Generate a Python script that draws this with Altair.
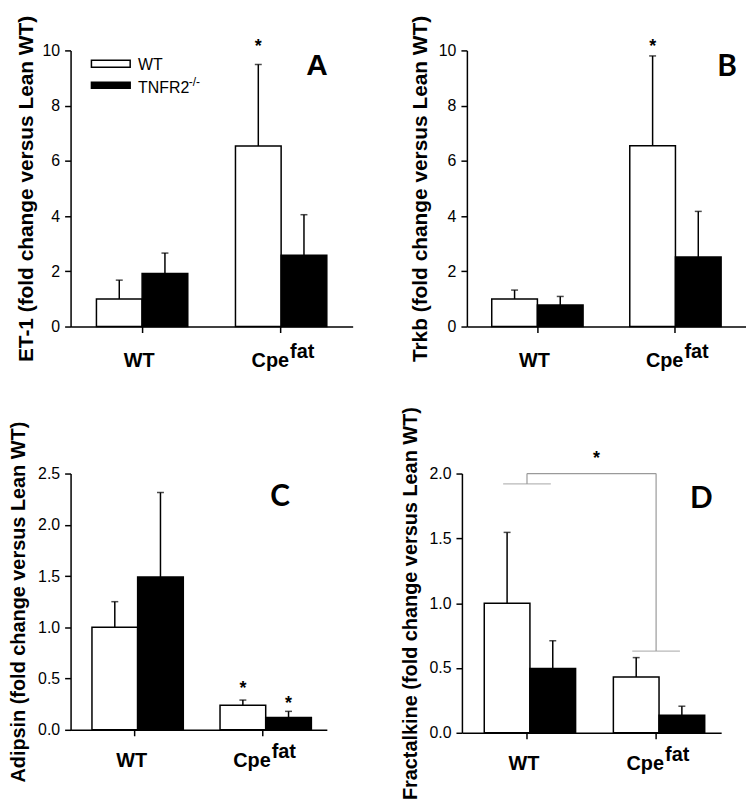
import altair as alt
import pandas as pd

# ---------------- data ----------------
groups = ["WT", "Cpe"]
genotypes = ["WT", "TNFR2"]
bar_group = ["WT", "WT", "Cpe", "Cpe"]
bar_geno = ["WT", "TNFR2", "WT", "TNFR2"]

et1_mean = [1.00, 1.92, 6.54, 2.58]
et1_err = [0.68, 0.74, 2.95, 1.47]

trkb_mean = [1.00, 0.78, 6.55, 2.52]
trkb_err = [0.32, 0.31, 3.25, 1.65]

adipsin_mean = [1.00, 1.49, 0.24, 0.12]
adipsin_err = [0.25, 0.825, 0.05, 0.06]

fract_mean = [1.00, 0.496, 0.43, 0.135]
fract_err = [0.546, 0.214, 0.15, 0.07]

# significance stars (group, genotype, value)
stars_a = {"group": ["Cpe"], "geno": ["WT"], "v": [10.3]}
stars_b = {"group": ["Cpe"], "geno": ["WT"], "v": [10.3]}
stars_c = {"group": ["Cpe", "Cpe"], "geno": ["WT", "TNFR2"], "v": [0.45, 0.30]}
star_d_value = [2.15]

# bracket in panel D
bracket_levels = {"WT": 1.92, "Cpe": 0.63}
bracket_top = 2.0

FONT = "Liberation Sans"
GRAY = "#9a9a9a"


def make_df(means, errs):
    return pd.DataFrame({
        "group": bar_group,
        "geno": bar_geno,
        "v": means,
        "top": [m + e for m, e in zip(means, errs)],
    })


def panel(means, errs, ytitle, ydom, yvals, yfmt, w, h, pin, pout, tsize, tpad,
          stars, letter, lx, ly, lfont, lab_main, lab_sup, extra=None):
    df = make_df(means, errs)
    xscale = alt.Scale(domain=groups, paddingInner=pin, paddingOuter=pout)
    xaxis = alt.Axis(title=None, labels=False, ticks=True, tickSize=6,
                     domainColor="black", domainWidth=1.5, tickColor="black", tickWidth=1.5)
    yscale = alt.Scale(domain=ydom, nice=False, zero=True)
    yaxis = alt.Axis(title=ytitle, values=yvals, format=yfmt, titleFontSize=tsize,
                     titleFontWeight="bold", titlePadding=tpad, labelPadding=5, tickSize=6)

    def X(field="group"):
        return alt.X(f"{field}:N", scale=xscale, axis=xaxis, sort=groups)

    def Y(field):
        return alt.Y(f"{field}:Q", scale=yscale, axis=yaxis, title=ytitle)

    xo = alt.XOffset("geno:N", sort=genotypes,
                     scale=alt.Scale(domain=genotypes, paddingInner=0, paddingOuter=0))

    base = alt.Chart(df)
    bars = base.mark_bar(stroke="black", strokeWidth=1.5).encode(
        x=X(), xOffset=xo, y=Y("v"),
        fill=alt.Fill("geno:N", scale=alt.Scale(domain=genotypes, range=["white", "black"]), legend=None),
    )
    err = base.mark_rule(strokeWidth=1.5, color="black").encode(
        x=X(), xOffset=xo, y=Y("v"), y2="top:Q")
    cap = base.mark_tick(size=7, thickness=1.5, color="black", orient="horizontal").encode(
        x=X(), xOffset=xo, y=Y("top"))

    layers = [bars, err, cap]

    if stars is not None:
        sdf = pd.DataFrame(stars)
        layers.append(alt.Chart(sdf).mark_text(text="*", fontSize=18, fontWeight="bold",
                                               font=FONT, dy=10, baseline="alphabetic").encode(
            x=X(), xOffset=xo, y=Y("v")))

    # panel letter
    layers.append(alt.Chart(pd.DataFrame({"t": [letter]})).mark_text(
        font=lfont, fontSize=30, fontWeight="bold", baseline="middle", align="center").encode(
        x=alt.value(lx), y=alt.value(ly), text="t:N"))

    # x category labels
    layers.append(alt.Chart(pd.DataFrame({"group": ["WT"], "t": ["WT"]})).mark_text(
        font=FONT, fontSize=20, fontWeight="bold", align="center", dx=-3, baseline="alphabetic").encode(
        x=X(), y=alt.value(h + lab_main), text="t:N"))
    layers.append(alt.Chart(pd.DataFrame({"group": ["Cpe"], "t": ["Cpe"]})).mark_text(
        font=FONT, fontSize=20, fontWeight="bold", align="right", dx=8, baseline="alphabetic").encode(
        x=X(), y=alt.value(h + lab_main), text="t:N"))
    layers.append(alt.Chart(pd.DataFrame({"group": ["Cpe"], "t": ["fat"]})).mark_text(
        font=FONT, fontSize=20, fontWeight="bold", align="left", dx=9, baseline="alphabetic").encode(
        x=X(), y=alt.value(h + lab_sup), text="t:N"))

    if extra is not None:
        layers.extend(extra(X, Y, xo))

    return alt.layer(*layers).properties(width=w, height=h)


def legend_layers(X, Y, xo):
    out = []
    out.append(alt.Chart(pd.DataFrame({"k": ["WT"]})).mark_rect(
        fill="white", stroke="black", strokeWidth=1.5).encode(
        x=alt.value(21), x2=alt.value(60), y=alt.value(10), y2=alt.value(17)))
    out.append(alt.Chart(pd.DataFrame({"k": ["TNFR2"]})).mark_rect(
        fill="black", stroke="black", strokeWidth=1.5).encode(
        x=alt.value(21), x2=alt.value(60), y=alt.value(32), y2=alt.value(38)))
    out.append(alt.Chart(pd.DataFrame({"t": ["WT"]})).mark_text(
        font=FONT, fontSize=16, align="left", baseline="middle").encode(
        x=alt.value(68), y=alt.value(15), text="t:N"))
    out.append(alt.Chart(pd.DataFrame({"t": ["TNFR2"]})).mark_text(
        font=FONT, fontSize=16, align="left", baseline="middle").encode(
        x=alt.value(68), y=alt.value(38), text="t:N"))
    out.append(alt.Chart(pd.DataFrame({"t": ["-/-"]})).mark_text(
        font=FONT, fontSize=12, align="left", baseline="middle").encode(
        x=alt.value(119), y=alt.value(32), text="t:N"))
    return out


def bracket_layers(X, Y, xo):
    out = []
    bdf = pd.DataFrame({"group": list(bracket_levels.keys()),
                        "v": list(bracket_levels.values()),
                        "top": [bracket_top] * len(bracket_levels)})
    out.append(alt.Chart(bdf).mark_tick(size=48, thickness=1.2, color=GRAY, orient="horizontal").encode(
        x=X(), y=Y("v")))
    out.append(alt.Chart(bdf).mark_rule(strokeWidth=1.2, color=GRAY).encode(
        x=X(), y=Y("v"), y2="top:Q"))
    tdf = pd.DataFrame({"group": ["WT"], "group2": ["Cpe"], "v": [bracket_top]})
    out.append(alt.Chart(tdf).mark_rule(strokeWidth=1.2, color=GRAY).encode(
        x=X(), x2="group2:N", y=Y("v")))
    sdf = pd.DataFrame({"group": ["WT"], "v": star_d_value})
    out.append(alt.Chart(sdf).mark_text(text="*", fontSize=18, fontWeight="bold", font=FONT,
                                        dx=70, dy=10, baseline="alphabetic").encode(
        x=X(), y=Y("v")))
    return out


A = panel(et1_mean, et1_err, "ET-1 (fold change versus Lean WT)", [0, 10], [0, 2, 4, 6, 8, 10], "d",
          284, 278, 0.343, 0.186, 21, 6, stars_a, "A", 248, 16, FONT, 41, 32, extra=legend_layers)
B = panel(trkb_mean, trkb_err, "Trkb (fold change versus Lean WT)", [0, 10], [0, 2, 4, 6, 8, 10], "d",
          281, 278, 0.338, 0.18, 21, 8, stars_b, "B", 262, 17, "Lato", 41, 32)
C = panel(adipsin_mean, adipsin_err, "Adipsin (fold change versus Lean WT)", [0, 2.5],
          [0, 0.5, 1.0, 1.5, 2.0, 2.5], ".1f",
          258, 258, 0.333, 0.167, 20, 9, stars_c, "C", 211, 24, "Lato", 37, 28.5)
D = panel(fract_mean, fract_err, "Fractalkine (fold change versus Lean WT)", [0, 2.0],
          [0, 0.5, 1.0, 1.5, 2.0], ".1f",
          261, 261, 0.338, 0.173, 20, 8, None, "D", 241, 26, "Lato", 37, 28.5, extra=bracket_layers)

row1 = alt.hconcat(A, B, spacing=57)
row2 = alt.hconcat(C, D, spacing=74)
chart = alt.vconcat(row1, row2, spacing=35).properties(
    padding={"top": 4, "left": 0, "right": 0, "bottom": 0}
).configure_view(
    stroke=None
).configure_axis(
    labelFont=FONT, labelFontSize=16, labelColor="black", titleFont=FONT, titleColor="black",
    domainColor="black", domainWidth=1.5, tickColor="black", tickWidth=1.5, grid=False
)

chart.save("out.html", embed_options={"renderer": "svg", "actions": False})
